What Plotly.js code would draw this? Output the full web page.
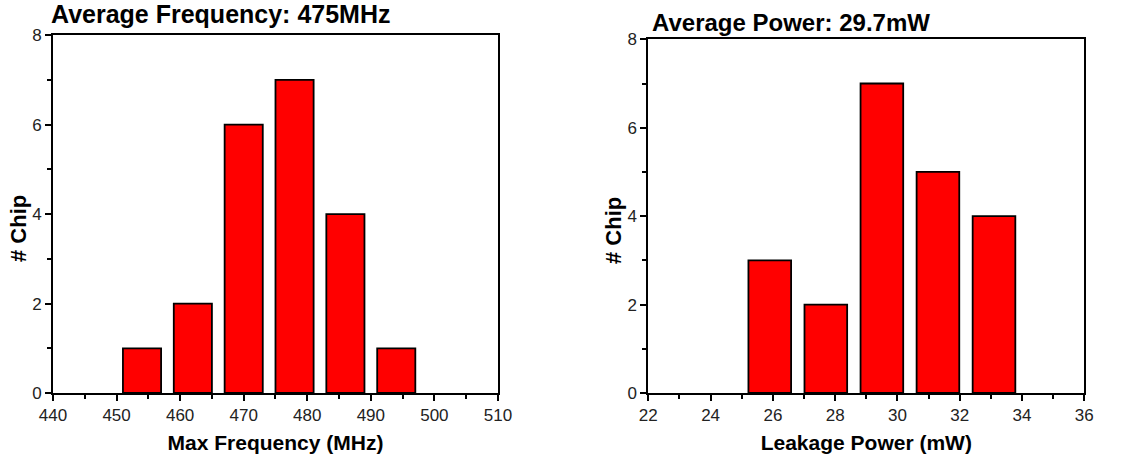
<!DOCTYPE html>
<html>
<head>
<meta charset="utf-8">
<script src="https://cdn.plot.ly/plotly-3.0.1.min.js"></script>
<style>html,body{margin:0;padding:0;background:#fff;}#chart{width:1145px;height:457px;}</style>
</head>
<body>
<div id="chart"></div>
<script>
// Left histogram: Max Frequency (MHz)
const freqCenters = [454, 462, 470, 478, 486, 494];
const freqCounts = [1, 2, 6, 7, 4, 1];
const freqBarWidth = 6;
// Right histogram: Leakage Power (mW)
const powerCenters = [25.9, 27.7, 29.5, 31.3, 33.1];
const powerCounts = [3, 2, 7, 5, 4];
const powerBarWidth = 1.37;

const leftTitle = "Average Frequency: 475MHz";
const rightTitle = "Average Power: 29.7mW";
const leftXTitle = "Max Frequency (MHz)";
const rightXTitle = "Leakage Power (mW)";
const yTitle = "# Chip";

const FONT = "Liberation Sans, Arial, sans-serif";
const barStyle = {color: "#ff0000", line: {color: "#000", width: 1.8}};

const traces = [
  {type: "bar", x: freqCenters, y: freqCounts, width: freqBarWidth, marker: barStyle, xaxis: "x", yaxis: "y", hoverinfo: "x+y"},
  {type: "bar", x: powerCenters, y: powerCounts, width: powerBarWidth, marker: barStyle, xaxis: "x2", yaxis: "y2", hoverinfo: "x+y"}
];

function xAxis(domain, range, dtick, title, anchor) {
  return {
    domain: domain, range: range, anchor: anchor, dtick: dtick, tick0: range[0],
    showline: true, linecolor: "#000", linewidth: 2, mirror: true,
    ticks: "outside", ticklen: 6, tickwidth: 2, tickcolor: "#000",
    minor: {ticks: "outside", ticklen: 4, tickwidth: 2, tickcolor: "#000", dtick: dtick / 2, showgrid: false},
    showgrid: false, zeroline: false,
    tickfont: {family: FONT, size: 17, color: "#222"},
    title: {text: "<b>" + title + "</b>", font: {family: FONT, size: 21, color: "#000"}, standoff: 11},
    automargin: false, fixedrange: true
  };
}
function yAxis(domain, anchor) {
  return {
    domain: domain, range: [0, 8], anchor: anchor, dtick: 2, tick0: 0,
    showline: true, linecolor: "#000", linewidth: 2, mirror: true,
    ticks: "outside", ticklen: 6, tickwidth: 2, tickcolor: "#000",
    minor: {ticks: "outside", ticklen: 4, tickwidth: 2, tickcolor: "#000", dtick: 1, showgrid: false},
    showgrid: false, zeroline: false,
    tickfont: {family: FONT, size: 17, color: "#222"},
    automargin: false, fixedrange: true
  };
}

const layout = {
  width: 1145, height: 457,
  margin: {l: 0, r: 0, t: 0, b: 0},
  paper_bgcolor: "#fff", plot_bgcolor: "#fff",
  showlegend: false,
  xaxis: xAxis([0.0463, 0.4349], [440, 510], 10, leftXTitle, "y"),
  yaxis: yAxis([0.140, 0.923], "x"),
  xaxis2: xAxis([0.5662, 0.947], [22, 36], 2, rightXTitle, "y2"),
  yaxis2: yAxis([0.140, 0.914], "x2"),
  annotations: [
    {text: "<b>" + leftTitle + "</b>", xref: "paper", yref: "paper", x: 0.0425, y: 1.005, xanchor: "left", yanchor: "top", showarrow: false, font: {family: FONT, size: 25, color: "#000"}},
    {text: "<b>" + rightTitle + "</b>", xref: "paper", yref: "paper", x: 0.5675, y: 0.985, xanchor: "left", yanchor: "top", showarrow: false, font: {family: FONT, size: 24, color: "#000"}},
    {text: "<b>" + yTitle + "</b>", xref: "paper", yref: "paper", x: 18 / 1145, y: 1 - 229 / 457, xanchor: "center", yanchor: "middle", textangle: -90, showarrow: false, font: {family: FONT, size: 22, color: "#000"}},
    {text: "<b>" + yTitle + "</b>", xref: "paper", yref: "paper", x: 613 / 1145, y: 1 - 231 / 457, xanchor: "center", yanchor: "middle", textangle: -90, showarrow: false, font: {family: FONT, size: 22, color: "#000"}}
  ]
};

Plotly.newPlot("chart", traces, layout, {displayModeBar: false, staticPlot: true});
</script>
</body>
</html>
